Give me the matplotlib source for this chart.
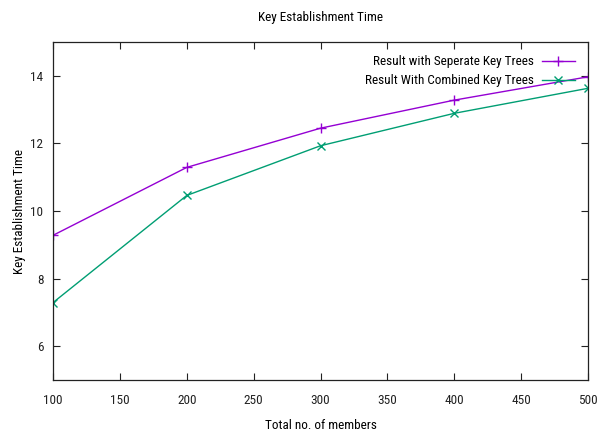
import matplotlib
matplotlib.use("Agg")
import matplotlib.pyplot as plt
from matplotlib import font_manager

members = [100, 200, 300, 400, 500]
separate = [9.28, 11.29, 12.45, 13.28, 13.97]
combined = [7.29, 10.46, 11.93, 12.89, 13.63]
xticks = [100, 150, 200, 250, 300, 350, 400, 450, 500]
yticks = [6, 8, 10, 12, 14]

names = {f.name for f in font_manager.fontManager.ttflist}
fam = [n for n in ['Roboto Condensed', 'DejaVu Sans Condensed', 'Liberation Sans Narrow'] if n in names]
narrow = bool(fam)
plt.rcParams['font.family'] = fam + ['DejaVu Sans']
fs = 9.5 if narrow else 8.0

fig = plt.figure(figsize=(5.99, 4.38), dpi=100)
ax = fig.add_axes([53/599, 1-380/438, (588-53)/599, (380-42)/438])

ax.plot(members, separate, color='#9400d3', lw=1.0, marker='+', ms=7, mew=1.0,
        label='Result with Seperate Key Trees')
ax.plot(members, combined, color='#009e73', lw=1.0, marker='x', ms=5.5, mew=1.0,
        label='Result With Combined Key Trees')

ax.set_xlim(100, 500)
ax.set_ylim(5, 15)
ax.set_xticks(xticks)
ax.set_yticks(yticks)
ax.tick_params(direction='in', top=True, right=True, length=5, width=0.8,
               labelsize=fs, pad=10, colors='#222222')
ax.tick_params(axis='y', pad=7)
for s in ax.spines.values():
    s.set_linewidth(0.9)
    s.set_color('#222222')

ax.set_title('Key Establishment Time', fontsize=fs, pad=15)
ax.set_xlabel('Total no. of members', fontsize=fs, labelpad=9)
ax.set_ylabel('Key Establishment Time', fontsize=fs, labelpad=3)

ax.legend(loc='upper right', frameon=False, markerfirst=False, fontsize=fs,
          handlelength=2.5, borderaxespad=0.6, labelspacing=0.45, handletextpad=0.6)

fig.savefig('out.png', dpi=100)
